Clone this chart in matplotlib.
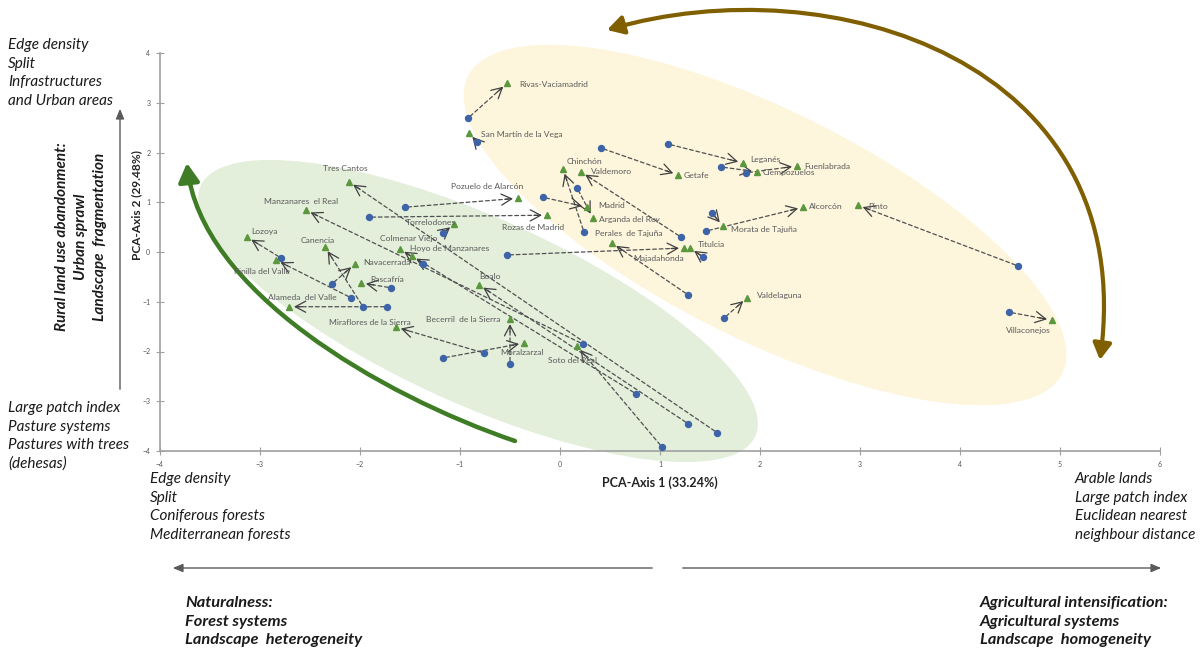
import numpy as np
import matplotlib
matplotlib.use('Agg')
import matplotlib.pyplot as plt
from matplotlib.patches import Ellipse, FancyArrowPatch
from matplotlib.path import Path
from matplotlib.transforms import Affine2D

plt.rcParams['font.family'] = ['Lato', 'DejaVu Sans']

# municipalities: first survey (circle) -> second survey (triangle)
names = ['Rivas-Vaciamadrid', 'San Martín de la Vega', 'Tres Cantos', 'Pozuelo de Alarcón',
         'Rozas de Madrid', 'Torrelodones', 'Manzanares  el Real', 'Lozoya', 'Canencia',
         'Pinilla del Valle', 'Navacerrada', 'Rascafría', 'Alameda  del Valle',
         'Miraflores de la Sierra', 'Becerril  de la Sierra', 'Moralzarzal', 'Soto del Real',
         'Boalo', 'Colmenar Viejo', 'Hoyo de Manzanares', 'Chinchón', 'Valdemoro', 'Madrid',
         'Arganda del Rey', 'Perales  de Tajuña', 'Majadahonda', 'Titulcia', 'Getafe',
         'Leganés', 'Ciempozuelos', 'Fuenlabrada', 'Alcorcón', 'Pinto', 'Morata de Tajuña',
         'Valdelaguna', 'Villaconejos']
x_start = [-0.92, -0.83, 1.57, -1.55, -1.91, -1.17, 0.23, -2.79, -1.97, -2.09, -2.28, -1.69,
           -1.73, -0.76, -0.50, -1.17, 1.02, 1.28, -1.37, 0.76, 0.24, 1.21, -0.17, 0.17, 1.28,
           -0.53, 1.43, 0.41, 1.08, 1.61, 1.86, 1.46, 4.58, 1.52, 1.64, 4.49]
y_start = [2.69, 2.21, -3.63, 0.90, 0.70, 0.38, -1.85, -0.12, -1.10, -0.92, -0.64, -0.72,
           -1.10, -2.03, -2.25, -2.13, -3.92, -3.45, -0.24, -2.85, 0.40, 0.30, 1.10, 1.29,
           -0.86, -0.06, -0.10, 2.09, 2.17, 1.71, 1.59, 0.42, -0.28, 0.78, -1.33, -1.21]
x_end = [-0.53, -0.91, -2.11, -0.42, -0.13, -1.06, -2.54, -3.13, -2.35, -2.84, -2.05, -1.99,
         -2.71, -1.64, -0.50, -0.36, 0.17, -0.81, -1.60, -1.48, 0.03, 0.21, 0.27, 0.33, 0.52,
         1.24, 1.30, 1.18, 1.83, 1.97, 2.37, 2.43, 2.98, 1.63, 1.87, 4.92]
y_end = [3.39, 2.39, 1.41, 1.08, 0.74, 0.56, 0.84, 0.30, 0.10, -0.16, -0.24, -0.62,
         -1.10, -1.51, -1.35, -1.83, -1.89, -0.66, 0.06, -0.08, 1.67, 1.61, 0.90, 0.68, 0.18,
         0.08, 0.08, 1.55, 1.79, 1.61, 1.73, 0.90, 0.94, 0.52, -0.92, -1.37]

ticks_x = [-4, -3, -2, -1, 0, 1, 2, 3, 4, 5, 6]
ticks_y = [-4, -3, -2, -1, 0, 1, 2, 3, 4]

# label placement around each triangle (pixels, y down) and alignment
label_pos = {
    'Rivas-Vaciamadrid': (12, 1, 'left'), 'San Martín de la Vega': (12, 1, 'left'),
    'Tres Cantos': (-4, -13, 'center'), 'Pozuelo de Alarcón': (-31, -12, 'center'),
    'Rozas de Madrid': (-14, 12, 'center'), 'Torrelodones': (-23, -2, 'center'),
    'Manzanares  el Real': (-5, -9, 'center'), 'Lozoya': (4, -6, 'left'),
    'Canencia': (-7, -7, 'center'), 'Pinilla del Valle': (-14, 12, 'center'),
    'Navacerrada': (8, -1, 'left'), 'Rascafría': (9, -3, 'left'),
    'Alameda  del Valle': (13, -9, 'center'), 'Miraflores de la Sierra': (-26, -5, 'center'),
    'Becerril  de la Sierra': (-10, 0, 'right'), 'Moralzarzal': (-2, 9, 'center'),
    'Soto del Real': (-4, 14, 'center'), 'Boalo': (11, -8, 'center'),
    'Colmenar Viejo': (9, -11, 'center'), 'Hoyo de Manzanares': (-2, -7, 'left'),
    'Chinchón': (21, -7, 'center'), 'Valdemoro': (10, 0, 'left'), 'Madrid': (11, -2, 'left'),
    'Arganda del Rey': (6, 1, 'left'), 'Perales  de Tajuña': (17, -10, 'center'),
    'Majadahonda': (-25, 10, 'center'), 'Titulcia': (8, -4, 'left'), 'Getafe': (6, 1, 'left'),
    'Leganés': (7, -3, 'left'), 'Ciempozuelos': (6, 1, 'left'), 'Fuenlabrada': (7, 1, 'left'),
    'Alcorcón': (6, -1, 'left'), 'Pinto': (10, 1, 'left'), 'Morata de Tajuña': (8, 3, 'left'),
    'Valdelaguna': (10, -2, 'left'), 'Villaconejos': (-24, 10, 'center'),
}

W, H = 1204, 648
fig = plt.figure(figsize=(W / 100, H / 100), dpi=100)
ax = fig.add_axes([160 / W, 197 / H, 1000 / W, 398 / H])
ax.set_xlim(-4, 6)
ax.set_ylim(-4, 4)

# pixel coordinates measured from the top-left corner of the figure
px = Affine2D().scale(1 / W, -1 / H).translate(0, 1) + fig.transFigure

# group envelopes
ax.add_patch(Ellipse((765, 225), 668, 232, angle=26.6, transform=px, clip_on=False,
                     facecolor='#fdf5dc', edgecolor='white', lw=2.5, zorder=0.5))
ax.add_patch(Ellipse((478, 311), 612, 190, angle=24.3, transform=px, clip_on=False,
                     facecolor='#e3eedb', edgecolor='white', lw=2.5, zorder=0.6))

# curved trend arrows
green_path = Path([(515, 441), (380, 395), (200, 290), (187, 163)],
                  [Path.MOVETO, Path.CURVE4, Path.CURVE4, Path.CURVE4])
ax.add_patch(FancyArrowPatch(path=green_path, transform=px, clip_on=False,
                             arrowstyle='-|>,head_length=0.8,head_width=0.45', mutation_scale=14,
                             color='#3e7c25', lw=3.2, zorder=3))
brown_path = Path([(607, 30), (830, -35), (1140, 60), (1100, 360)],
                  [Path.MOVETO, Path.CURVE4, Path.CURVE4, Path.CURVE4])
ax.add_patch(FancyArrowPatch(path=brown_path, transform=px, clip_on=False,
                             arrowstyle='<|-|>,head_length=0.7,head_width=0.4', mutation_scale=14,
                             color='#7f5f00', lw=3.0, zorder=3))

# dashed trajectories, each with a solid open head
to_disp = ax.transData.transform
to_data = ax.transData.inverted().transform
for x0, y0, x1, y1 in zip(x_start, y_start, x_end, y_end):
    ax.annotate('', xy=(x1, y1), xytext=(x0, y0),
                arrowprops=dict(arrowstyle='-', color='#505050', lw=0.9, ls=(0, (3, 2.2)),
                                shrinkA=2, shrinkB=5), zorder=2)
    p0 = to_disp((x0, y0))
    p1 = to_disp((x1, y1))
    d = (p1 - p0) / np.hypot(*(p1 - p0))
    tip = to_data(p1 - d * 5)
    tail = to_data(p1 - d * 13)
    ax.annotate('', xy=tip, xytext=tail,
                arrowprops=dict(arrowstyle='->,head_length=0.75,head_width=0.4', color='#404040',
                                lw=0.9, shrinkA=0, shrinkB=0), zorder=2)

ax.plot(x_start, y_start, 'o', ms=4.3, color='#3d64a8', zorder=4)
ax.plot(x_end, y_end, '^', ms=4.3, color='#5b973c', zorder=4)

for n, x1, y1 in zip(names, x_end, y_end):
    dx, dy, ha = label_pos[n]
    ax.annotate(n, (x1, y1), xytext=(dx, -dy), textcoords='offset pixels', ha=ha, va='center',
                fontsize=6.1, color='#5a5a5a', zorder=5)

# axes look
for s in ['top', 'right']:
    ax.spines[s].set_visible(False)
for s in ['left', 'bottom']:
    ax.spines[s].set_color('#a0a0a0')
    ax.spines[s].set_linewidth(1.2)
ax.set_xticks(ticks_x)
ax.set_yticks(ticks_y)
ax.tick_params(direction='inout', length=6, width=0.8, color='#a0a0a0', labelsize=5,
               labelcolor='#555555', pad=4)
ax.patch.set_alpha(0)

# axis titles
fig.text(660, 483, 'PCA-Axis 1 (33.24%)', transform=px, ha='center', va='center',
         fontsize=9, fontweight='bold', color='#222222')
fig.text(137, 205, 'PCA-Axis 2 (29.48%)', transform=px, ha='center', va='center',
         rotation=90, fontsize=8.6, fontweight='bold', color='#222222')

# interpretation of the axes
def block(x, y0, lines, step=18.6, **kw):
    for i, s in enumerate(lines):
        fig.text(x, y0 + i * step, s, transform=px, va='center', color='#1a1a1a', **kw)

block(8, 45, ['Edge density', 'Split', 'Infrastructures', 'and Urban areas'],
      fontsize=11, style='italic')
block(8, 408, ['Large patch index', 'Pasture systems', 'Pastures with trees', '(dehesas)'],
      fontsize=11, style='italic')
block(150, 479, ['Edge density', 'Split', 'Coniferous forests', 'Mediterranean forests'],
      fontsize=11, style='italic')
block(1075, 479, ['Arable lands', 'Large patch index', 'Euclidean nearest',
                  'neighbour distance'], fontsize=11, style='italic')
block(185, 603, ['Naturalness:', 'Forest systems', 'Landscape  heterogeneity'],
      fontsize=11.8, style='italic', fontweight='bold')
block(980, 603, ['Agricultural intensification:', 'Agricultural systems',
                 'Landscape  homogeneity'], fontsize=11.8, style='italic', fontweight='bold')

for xx, s in zip([62, 81, 100], ['Rural land use abandonment:', 'Urban sprawl',
                                 'Landscape  fragmentation']):
    fig.text(xx, 237, s, transform=px, ha='center', va='center', rotation=90,
             fontsize=11, style='italic', fontweight='bold', color='#1a1a1a')

# direction arrows
arrow_kw = dict(arrowstyle='-|>,head_length=0.6,head_width=0.25', mutation_scale=10,
                color='#5a5a5a', lw=1.0, transform=px)
fig.patches.append(FancyArrowPatch((120, 392), (120, 106), **arrow_kw))
fig.patches.append(FancyArrowPatch((655, 568), (170, 568), **arrow_kw))
fig.patches.append(FancyArrowPatch((680, 568), (1164, 568), **arrow_kw))

fig.savefig('out.png', dpi=100)
